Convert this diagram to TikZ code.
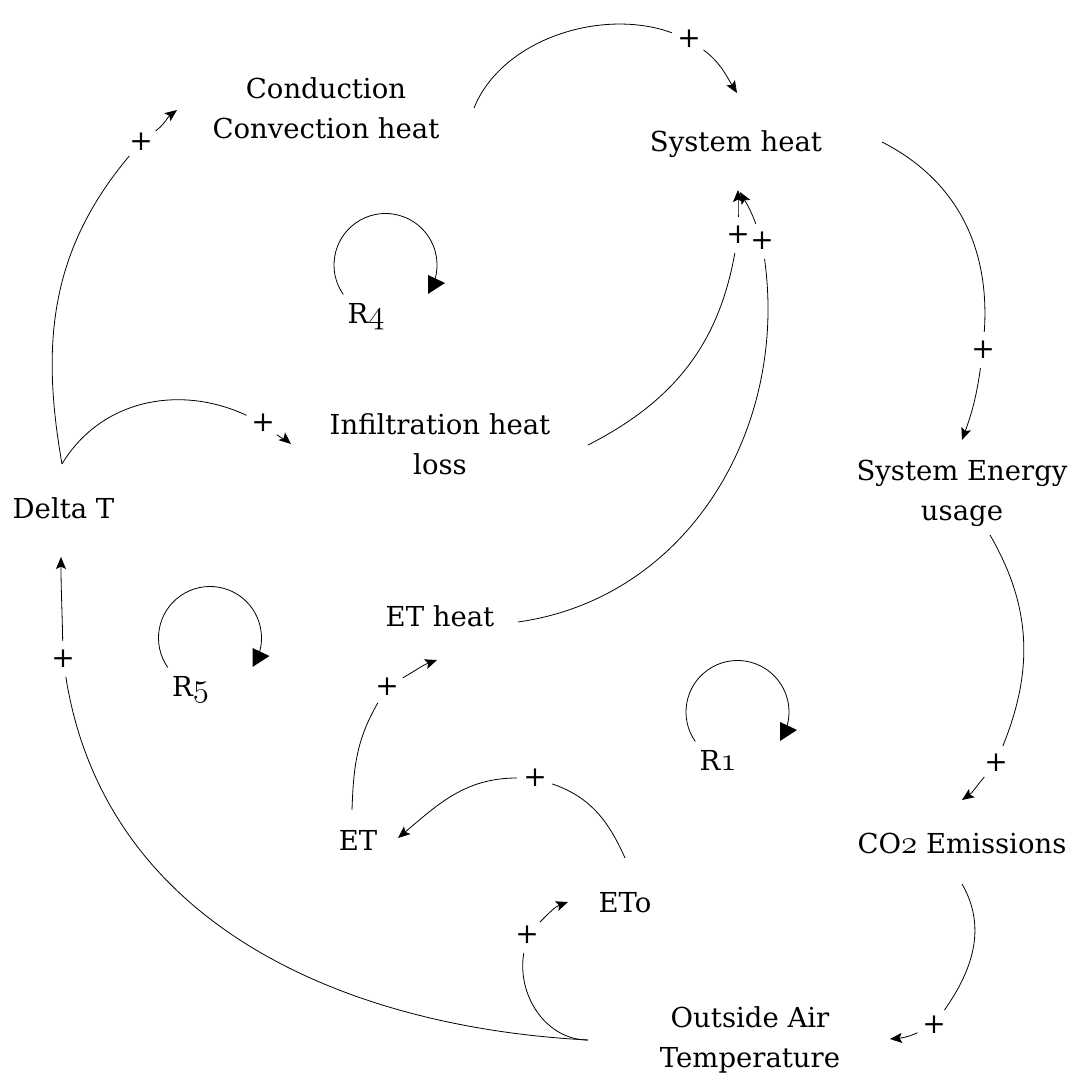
\documentclass[tikz,border=0pt]{standalone}
\usepackage{fix-cm}
\usepackage{fontspec}
\setmainfont{DejaVu Serif}
\usetikzlibrary{arrows.meta}

% old-style figures taken from the math italic font, enlarged to the x-height
\newcommand\osn[1]{{\fontsize{33}{40}\selectfont\ensuremath{\mathnormal{#1}}}}

\tikzset{
  lbl/.style={font=\fontsize{27.5}{40}\selectfont, align=center, inner sep=0pt},
  pol/.style={circle, inner sep=0pt, minimum size=36pt, font=\fontsize{28}{40}\selectfont},
  link/.style={line width=0.8pt},
  tip/.style={-{Stealth[length=12pt,width=10pt,inset=2.5pt]}},
  rloop/.pic={
    \draw[link] (215:51.5) arc[start angle=215, end angle=-25, radius=51.5];
    \fill (42.5,-10) -- (59.5,-18) -- (42.5,-29) -- cycle;
    \node[lbl, anchor=base] (-lab) at (-19.5,-59) {R\osn{#1}};
  }
}

\begin{document}
\begin{tikzpicture}[x=1pt,y=1pt]
\fill[white] (0,0) rectangle (1077,1080);
\useasboundingbox (0,0) rectangle (1077,1080);

% variables
\node[lbl] (cc)  at (326,971.5) {Conduction\\Convection heat};
\node[lbl] (sh)  at (736,936)   {System heat};
\node[lbl] (seu) at (962,587)   {System Energy\\usage};
\node[lbl] (co2) at (962,237)   {CO\osn{2} Emissions};
\node[lbl] (oat) at (750,40)    {Outside Air\\Temperature};
\node[lbl] (eto) at (625,177)   {ETo};
\node[lbl] (et)  at (358,240)   {ET};
\node[lbl] (eth) at (440,463.5) {ET heat};
\node[lbl] (dt)  at (63.5,571.5) {Delta T};
\node[lbl] (inf) at (440,635.5) {Infiltration heat\\loss};

% link polarities
\node[pol] (p1)  at (689,1041) {+};
\node[pol] (p2)  at (983,730)  {+};
\node[pol] (p3)  at (996,317)  {+};
\node[pol] (p4)  at (934,55)   {+};
\node[pol] (p5)  at (63,421)   {+};
\node[pol] (p6)  at (527,145)  {+};
\node[pol] (p7)  at (535,302)  {+};
\node[pol] (p8)  at (387,393)  {+};
\node[pol] (p9)  at (762,839)  {+};
\node[pol] (p10) at (738,845)  {+};
\node[pol] (p11) at (141,938)  {+};
\node[pol] (p12) at (263,657)  {+};

% causal links
\draw[link] ([shift={(148,0.5)}]cc.center) to[out=68,in=160,looseness=0.9] (p1);
\draw[link,tip] (p1) to[out=-37,in=122] ([shift={(1,51)}]sh.center);

\draw[link] ([shift={(146,2)}]sh.center) to[out=-27,in=86] (p2);
\draw[link,tip] (p2) to[out=-98,in=70] ([shift={(0,53)}]seu.center);

\draw[link] ([shift={(28,-42)}]seu.center) to[out=-60,in=68] (p3);
\draw[link,tip] (p3) to[out=-130,in=35] ([shift={(0,43)}]co2.center);

\draw[link] ([shift={(0,-41)}]co2.center) to[out=-60,in=55] (p4);
\draw[link,tip] (p4) to[out=-155,in=5] ([shift={(140,1)}]oat.center);

\draw[link] ([shift={(-162,0)}]oat.center) to[out=177,in=-81] (p5);
\draw[link,tip] (p5) to[out=91,in=-90] ([shift={(-2.5,-48.5)}]dt.center);

\draw[link] ([shift={(-162,0)}]oat.center) to[out=180,in=-100] (p6);
\draw[link,tip] (p6) to[out=45,in=-160] ([shift={(-57,1)}]eto.center);

\draw[link] ([shift={(0,45)}]eto.center) to[out=114,in=-19] (p7);
\draw[link,tip] (p7) to[out=180,in=40] ([shift={(40,2)}]et.center);

\draw[link] ([shift={(-6,30)}]et.center) to[out=88,in=-120] (p8);
\draw[link,tip] (p8) to[out=30,in=200] ([shift={(-3,-43.5)}]eth.center);

\draw[link] ([shift={(78,-5.5)}]eth.center) to[out=8,in=-82] (p9);
\draw[link,tip] (p9) to[out=110,in=-60] ([shift={(4,-48)}]sh.center);

\draw[link] ([shift={(148,-0.5)}]inf.center) to[out=27,in=-100] (p10);
\draw[link,tip] (p10) to[out=90,in=-90] ([shift={(2,-46)}]sh.center);

\draw[link] ([shift={(-1.5,44.5)}]dt.center) to[out=100,in=-130] (p11);
\draw[link,tip] (p11) to[out=37,in=-143] ([shift={(-149,-1.5)}]cc.center);

\draw[link] ([shift={(-1.5,44.5)}]dt.center) to[out=59,in=155] (p12);
\draw[link,tip] (p12) to[out=-40,in=140] ([shift={(-149,0.5)}]inf.center);

% loop markers
\pic (r4) at (385.5,815) {rloop=4};
\pic (r5) at (210,442)   {rloop=5};
\pic (r1) at (737.5,368) {rloop=1};
\end{tikzpicture}
\end{document}
